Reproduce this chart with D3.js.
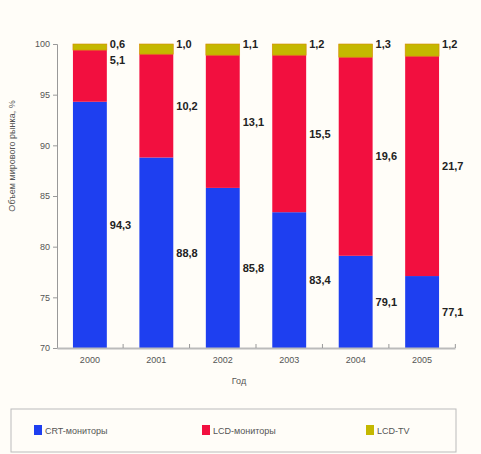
<!DOCTYPE html>
<html>
<head>
<meta charset="utf-8">
<script src="https://cdn.jsdelivr.net/npm/d3@7"></script>
<style>
  body { margin: 0; background: #fffdf8; }
  text { font-family: "Liberation Sans", Arial, sans-serif; }
</style>
</head>
<body>
<div id="canvas"></div>
<script>
// --- data
var years = ['2000', '2001', '2002', '2003', '2004', '2005'];
var crt = [94.3, 88.8, 85.8, 83.4, 79.1, 77.1];
var lcd = [5.1, 10.2, 13.1, 15.5, 19.6, 21.7];
var lcdTv = [0.6, 1.0, 1.1, 1.2, 1.3, 1.2];
var yTicks = [70, 75, 80, 85, 90, 95, 100];
var seriesNames = ['CRT-мониторы', 'LCD-мониторы', 'LCD-TV'];
var colors = ['#1e3ff0', '#f20f3f', '#c4b800'];

var W = 481, H = 454;
var M = {top: 44, right: 26, bottom: 106, left: 57};
var w = W - M.left - M.right,
    h = H - M.top - M.bottom;

var svg = d3.select('#canvas').append('svg')
    .attr('width', W).attr('height', H);

var plot = svg.append('g')
    .attr('transform', 'translate(' + M.left + ',' + M.top + ')');

var x = d3.scaleBand().domain(years).range([0, w]).paddingInner(0.49).paddingOuter(0.24);
var y = d3.scaleLinear().domain([70, 100]).range([h, 0]);

var rows = years.map(function(yr, i) {
    return {year: yr, crt: crt[i], lcd: lcd[i], tv: lcdTv[i]};
});
var stack = d3.stack().keys(['crt', 'lcd', 'tv'])(rows);

// --- bars
stack.forEach(function(layer, k) {
    plot.append('g').selectAll('rect')
        .data(layer)
        .join('rect')
        .attr('x', function(d) { return x(d.data.year); })
        .attr('width', x.bandwidth())
        .attr('y', function(d) { return y(Math.min(d[1], 100)); })
        .attr('height', function(d) { return y(Math.max(d[0], 70)) - y(Math.min(d[1], 100)); })
        .style('fill', colors[k])
        .style('stroke', k == 2 ? '#d88a00' : 'none')
        .style('stroke-width', 0.6);
});

// --- value labels to the right of each bar
function fmt(v) { return v.toFixed(1).replace('.', ','); }
stack.forEach(function(layer, k) {
    plot.append('g').selectAll('text')
        .data(layer)
        .join('text')
        .attr('x', function(d) { return x(d.data.year) + x.bandwidth() + 3; })
        .attr('y', function(d) {
            if (k == 2) return y(100) + 4;
            if (k == 1 && d.data.year == '2000') return y(100) + 20;
            var lo = Math.max(d[0], 70), hi = Math.min(d[1], 100);
            return (y(lo) + y(hi)) / 2 + 4;
        })
        .text(function(d) { return fmt(d[1] - d[0]); })
        .style('font-size', '11px')
        .style('font-weight', 'bold')
        .style('fill', '#222');
});

// --- axes
var yAxis = d3.axisLeft(y).tickValues(yTicks).tickSize(4);
plot.append('g').call(yAxis)
    .call(function(g) {
        g.select('.domain').attr('stroke', '#999');
        g.selectAll('line').attr('stroke', '#999');
        g.selectAll('text').style('font-size', '9px').style('fill', '#555');
    });

var xAxis = d3.axisBottom(x).tickSize(0).tickPadding(9);
var xg = plot.append('g').attr('transform', 'translate(0,' + h + ')').call(xAxis);
xg.select('.domain').attr('stroke', '#bbb').attr('stroke-width', 2);
xg.selectAll('text').style('font-size', '9px').style('fill', '#555');
xg.selectAll('.sep').data(years).join('line')
    .attr('class', 'sep')
    .attr('x1', function(d) { return x(d) + x.bandwidth() + x.step() * 0.245; })
    .attr('x2', function(d) { return x(d) + x.bandwidth() + x.step() * 0.245; })
    .attr('y1', -4).attr('y2', 0)
    .attr('stroke', '#999');

// --- axis titles
plot.append('text')
    .attr('transform', 'translate(-42,' + (h / 2 - 40) + ') rotate(-90)')
    .attr('text-anchor', 'middle')
    .style('font-size', '9px')
    .style('fill', '#555')
    .text('Объем мирового рынка, %');

plot.append('text')
    .attr('x', w / 2 - 17).attr('y', h + 36)
    .attr('text-anchor', 'middle')
    .style('font-size', '9px')
    .style('fill', '#555')
    .text('Год');

// --- legend
var leg = svg.append('g');
leg.append('rect')
    .attr('x', 11).attr('y', 409).attr('width', 445).attr('height', 43)
    .style('fill', 'none').style('stroke', '#bbb');
var legX = [34, 202, 366];
seriesNames.forEach(function(name, i) {
    leg.append('rect')
        .attr('x', legX[i]).attr('y', 425).attr('width', 8).attr('height', 10)
        .style('fill', colors[i]);
    leg.append('text')
        .attr('x', legX[i] + 11).attr('y', 434)
        .style('font-size', '9px').style('fill', '#555')
        .text(name);
});
</script>
</body>
</html>
